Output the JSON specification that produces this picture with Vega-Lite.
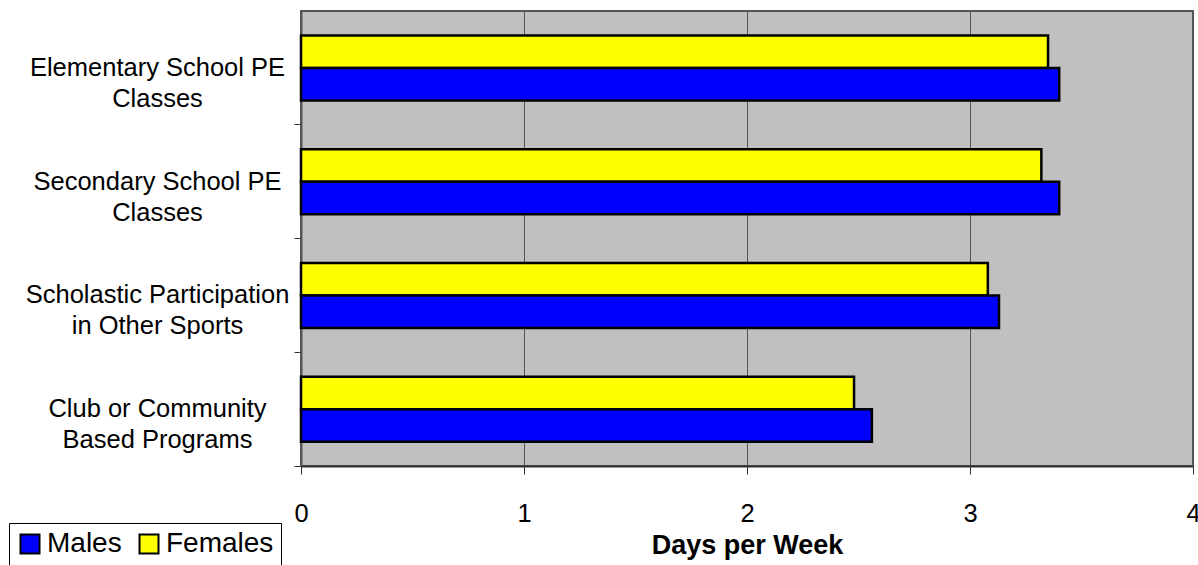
{
  "$schema": "https://vega.github.io/schema/vega-lite/v6.json",
  "autosize": "none",
  "width": 892,
  "height": 455,
  "padding": {"left": 301, "top": 11, "right": 5, "bottom": 99},
  "background": "white",
  "config": {
    "font": "Liberation Sans",
    "view": {"fill": "#C0C0C0", "stroke": "#555555", "strokeWidth": 2}
  },
  "data": {
    "values": [
      {"program": "Elementary School PE|Classes", "sex": "Females", "days": 3.35},
      {"program": "Elementary School PE|Classes", "sex": "Males", "days": 3.40},
      {"program": "Secondary School PE|Classes", "sex": "Females", "days": 3.32},
      {"program": "Secondary School PE|Classes", "sex": "Males", "days": 3.40},
      {"program": "Scholastic Participation|in Other Sports", "sex": "Females", "days": 3.08},
      {"program": "Scholastic Participation|in Other Sports", "sex": "Males", "days": 3.13},
      {"program": "Club or Community|Based Programs", "sex": "Females", "days": 2.48},
      {"program": "Club or Community|Based Programs", "sex": "Males", "days": 2.56}
    ]
  },
  "mark": {"type": "bar", "stroke": "black", "strokeWidth": 2.5},
  "encoding": {
    "y": {
      "field": "program",
      "type": "nominal",
      "sort": null,
      "scale": {"paddingInner": 0, "paddingOuter": 0},
      "axis": {
        "title": null,
        "labelExpr": "split(datum.label, '|')",
        "labelAlign": "center",
        "labelBaseline": "middle",
        "labelFontSize": 25.5,
        "labelLineHeight": 31,
        "labelColor": "black",
        "labelPadding": 137,
        "labelLimit": 400,
        "tickSize": 7,
        "tickColor": "#333333",
        "bandPosition": 1,
        "domainColor": "#555555",
        "domainWidth": 2,
        "grid": false
      }
    },
    "yOffset": {
      "field": "sex",
      "type": "nominal",
      "sort": ["Females", "Males"],
      "scale": {"paddingInner": 0, "paddingOuter": 0.75}
    },
    "x": {
      "field": "days",
      "type": "quantitative",
      "scale": {"domain": [0, 4], "nice": false},
      "axis": {
        "title": "Days per Week",
        "titleFontSize": 27,
        "titleFontWeight": "bold",
        "titleColor": "black",
        "titlePadding": 6,
        "values": [0, 1, 2, 3, 4],
        "format": "d",
        "labelFontSize": 25.5,
        "labelColor": "black",
        "labelPadding": 27,
        "labelFlush": false,
        "tickSize": 8,
        "tickColor": "#333333",
        "domainColor": "#333333",
        "domainWidth": 2,
        "grid": true,
        "gridColor": "#555555",
        "gridWidth": 1
      }
    },
    "color": {
      "field": "sex",
      "type": "nominal",
      "scale": {"domain": ["Males", "Females"], "range": ["#0000FF", "#FFFF00"]},
      "legend": {
        "title": null,
        "orient": "none",
        "direction": "horizontal",
        "legendX": -292,
        "legendY": 512,
        "strokeColor": "black",
        "fillColor": "white",
        "padding": 7,
        "symbolType": "square",
        "symbolSize": 361,
        "symbolStrokeColor": "black",
        "symbolStrokeWidth": 2,
        "symbolOpacity": 1,
        "labelFontSize": 28,
        "labelColor": "black",
        "labelOffset": 3,
        "columnPadding": 13
      }
    }
  }
}
